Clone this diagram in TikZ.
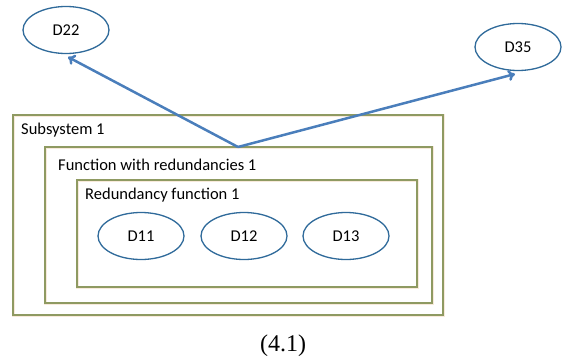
\documentclass[tikz,border=0pt]{standalone}
\usepackage{fontspec}
\setmainfont{Carlito}
\newfontfamily\capfont{Liberation Serif}
\usetikzlibrary{arrows.meta,shapes.geometric}
\definecolor{boxline}{HTML}{8F9A62}
\definecolor{boxglow}{HTML}{F8EADB}
\definecolor{ellline}{HTML}{2F6A9A}
\definecolor{arrline}{HTML}{4A7EBB}
\tikzset{
  frame/.style={draw=boxglow,line width=3pt,
     postaction={draw=boxline,line width=1.2pt}},
  dnode/.style={ellipse,draw=ellline,line width=1.3pt,minimum width=86pt,minimum height=47pt,inner sep=0pt,font=\fontsize{16.5}{19}\selectfont},
  lbl/.style={anchor=base west,inner sep=0pt,font=\fontsize{16.5}{19}\selectfont},
  conn/.style={draw=arrline,line width=2.5pt,-{To[length=7pt,width=11pt]}}
}
\begin{document}
\begin{tikzpicture}[x=1pt,y=-1pt]
\useasboundingbox (0,0) rectangle (564,361);
\draw[frame] (13,115) rectangle (443,315);
\draw[frame] (45,147) rectangle (432,303);
\draw[frame] (77,180) rectangle (417,287);
\node[lbl] (t1) at (21,134) {Subsystem 1};
\node[lbl] (t2) at (58,170) {Function with redundancies 1};
\node[lbl] (t3) at (85,199) {Redundancy function 1};
\node[dnode] (d11) at (141,236) {D11};
\node[dnode] (d12) at (244,236) {D12};
\node[dnode] (d13) at (346,236) {D13};
\node[dnode] (d22) at (66,30) {D22};
\node[dnode] (d35) at (518,47) {D35};
\coordinate (src) at (238,147);
\draw[conn] (src) -- (68,57);
\draw[conn] (src) -- (515,74);
\node[font=\capfont\fontsize{24}{28}\selectfont,inner sep=0pt] (cap) at (283,346) {(4.1)};
\end{tikzpicture}
\end{document}
